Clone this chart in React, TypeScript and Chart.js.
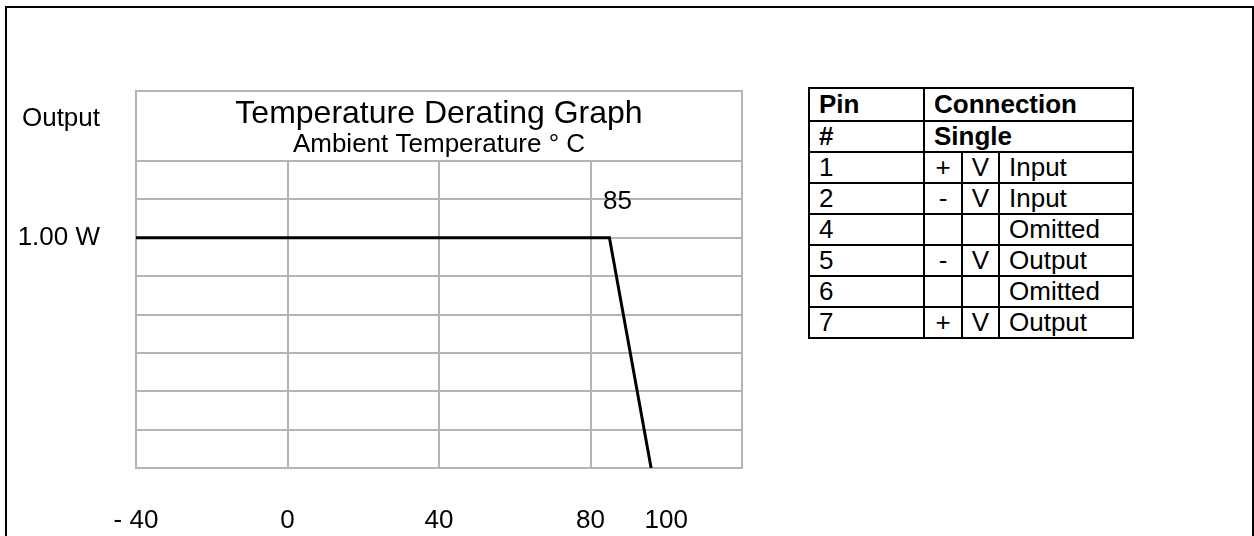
import React, { useEffect, useRef } from "react";
import { Chart, registerables } from "chart.js";

Chart.register(...registerables);

// ---- data ----
const temps = [-40, 85, 96];
const outputs = [1, 1, 0];
const xTickValues = [-40, 0, 40, 80, 100, 120];
const xTickLabels = ["- 40", "0", "40", "80", "100", ""];
const xGridValues = [-40, 0, 40, 80, 120];
const yTickValues = [0, 1 / 6, 2 / 6, 3 / 6, 4 / 6, 5 / 6, 1, 7 / 6, 8 / 6];
const yTickLabels = ["", "", "", "", "", "", "1.00 W", "", ""];
const kneeLabel = "85";
const yLabel = "Output";
const titleText = "Temperature Derating Graph";
const subtitleText = "Ambient Temperature ° C";

const pins = ["1", "2", "4", "5", "6", "7"];
const polarity = ["+", "-", "", "-", "", "+"];
const vCol = ["V", "V", "", "V", "", "V"];
const funcs = ["Input", "Input", "Omitted", "Output", "Omitted", "Output"];

const FONT = "'Liberation Sans', Arial, Helvetica, sans-serif";
const GRID = "#b4b4b4";

const overlay = {
  id: "overlay",
  afterDraw(chart: any) {
    const { ctx, chartArea, scales } = chart;
    const { left, right, top } = chartArea;
    const headTop = top - 70;
    ctx.save();
    ctx.strokeStyle = GRID;
    ctx.lineWidth = 2;
    ctx.beginPath();
    ctx.moveTo(left, top);
    ctx.lineTo(left, headTop);
    ctx.lineTo(right, headTop);
    ctx.lineTo(right, top);
    ctx.stroke();

    ctx.fillStyle = "#000";
    ctx.font = `26px ${FONT}`;
    ctx.textBaseline = "middle";
    ctx.textAlign = "center";
    ctx.fillText(
      kneeLabel,
      scales.x.getPixelForValue(temps[1]) + 8,
      scales.y.getPixelForValue(outputs[1]) - 36
    );
    ctx.textAlign = "right";
    ctx.fillText(yLabel, left - 36, top - 42);
    ctx.restore();
  },
};

function DeratingChart() {
  const ref = useRef<HTMLCanvasElement>(null);
  useEffect(() => {
    if (!ref.current) return;
    const chart: any = new Chart(ref.current, {
      type: "line",
      data: {
        datasets: [
          {
            data: temps.map((t, i) => ({ x: t, y: outputs[i] })),
            borderColor: "#000",
            borderWidth: 3,
            pointRadius: 0,
            tension: 0,
            fill: false,
          },
        ],
      },
      options: {
        animation: false,
        responsive: false,
        events: [],
        layout: { padding: { top: 91, left: 0, right: 18, bottom: 0 } },
        plugins: {
          legend: { display: false },
          tooltip: { enabled: false },
          title: {
            display: true,
            text: titleText,
            color: "#000",
            fullSize: false,
            font: { size: 32, weight: "normal", family: FONT, lineHeight: 1 },
            padding: { top: 7, bottom: 0 },
          },
          subtitle: {
            display: true,
            text: subtitleText,
            color: "#000",
            fullSize: false,
            font: { size: 26, weight: "normal", family: FONT, lineHeight: 1 },
            padding: { top: 2, bottom: 3 },
          },
        },
        scales: {
          x: {
            type: "linear",
            min: -40,
            max: 120,
            afterBuildTicks: (s: any) => {
              s.ticks = xTickValues.map((v) => ({ value: v }));
            },
            afterFit: (s: any) => {
              s.height = 68;
              s.paddingLeft = 0;
              s.paddingRight = 0;
            },
            grid: {
              color: (c: any) =>
                c.tick && xGridValues.includes(c.tick.value) ? GRID : "rgba(0,0,0,0)",
              lineWidth: 2,
              drawTicks: false,
            },
            border: { display: true, color: GRID, width: 2 },
            ticks: {
              autoSkip: false,
              maxRotation: 0,
              color: "#000",
              padding: 37,
              font: { size: 26, family: FONT },
              callback: (_v: any, i: number) => xTickLabels[i],
            },
          },
          y: {
            type: "linear",
            min: 0,
            max: 8 / 6,
            afterBuildTicks: (s: any) => {
              s.ticks = yTickValues.map((v) => ({ value: v }));
            },
            afterFit: (s: any) => {
              s.width = 136;
              s.paddingTop = 0;
              s.paddingBottom = 0;
            },
            grid: { color: GRID, lineWidth: 2, drawTicks: false },
            border: { display: true, color: GRID, width: 2 },
            ticks: {
              autoSkip: false,
              color: "#000",
              padding: 36,
              font: { size: 26, family: FONT },
              callback: (_v: any, i: number) => yTickLabels[i],
            },
          },
        },
      },
      plugins: [overlay],
    } as any);
    return () => chart.destroy();
  }, []);
  return (
    <canvas
      ref={ref}
      width={760}
      height={536}
      style={{ position: "absolute", left: 0, top: 0, width: 760, height: 536 }}
    />
  );
}

const cell: React.CSSProperties = {
  border: "2px solid #000",
  padding: "0 0 0 9px",
  lineHeight: "29px",
  height: 29,
  whiteSpace: "nowrap",
  textAlign: "left",
  verticalAlign: "middle",
};
const center: React.CSSProperties = { ...cell, padding: 0, textAlign: "center" };

function PinTable() {
  return (
    <table
      style={{
        position: "absolute",
        left: 808,
        top: 87,
        borderCollapse: "collapse",
        tableLayout: "fixed",
        width: 324,
        fontFamily: FONT,
        fontSize: 26,
        color: "#000",
      }}
    >
      <colgroup>
        <col style={{ width: 115 }} />
        <col style={{ width: 38 }} />
        <col style={{ width: 37 }} />
        <col style={{ width: 134 }} />
      </colgroup>
      <tbody>
        <tr>
          <td style={{ ...cell, fontWeight: "bold", lineHeight: "31px", height: 31 }}>Pin</td>
          <td colSpan={3} style={{ ...cell, fontWeight: "bold", lineHeight: "31px", height: 31 }}>
            Connection
          </td>
        </tr>
        <tr>
          <td style={{ ...cell, fontWeight: "bold" }}>#</td>
          <td colSpan={3} style={{ ...cell, fontWeight: "bold" }}>
            Single
          </td>
        </tr>
        {pins.map((p, i) => (
          <tr key={i}>
            <td style={cell}>{p}</td>
            <td style={center}>{polarity[i]}</td>
            <td style={center}>{vCol[i]}</td>
            <td style={cell}>{funcs[i]}</td>
          </tr>
        ))}
      </tbody>
    </table>
  );
}

export default function App() {
  return (
    <div
      style={{
        position: "fixed",
        left: 0,
        top: 0,
        width: 1254,
        height: 536,
        overflow: "hidden",
        background: "#fff",
      }}
    >
      <div
        style={{
          position: "absolute",
          left: 5,
          top: 6,
          width: 1249,
          height: 600,
          boxSizing: "border-box",
          border: "2px solid #000",
        }}
      />
      <DeratingChart />
      <PinTable />
    </div>
  );
}
